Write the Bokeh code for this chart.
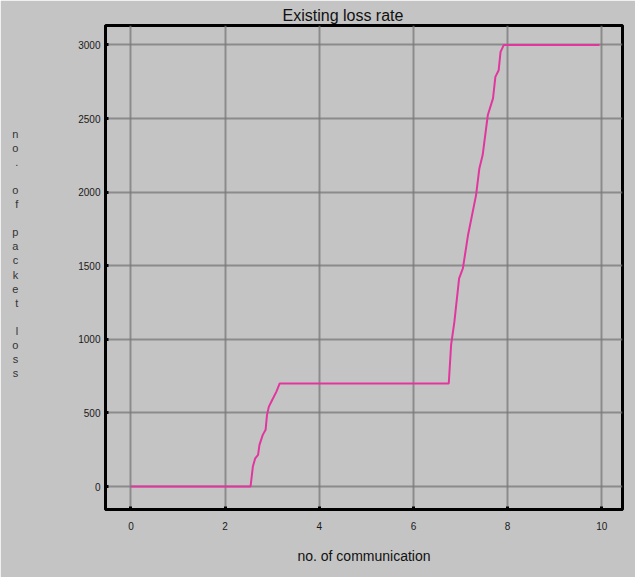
from bokeh.plotting import figure
from bokeh.models import Range1d, Title
from bokeh.embed import file_html
from bokeh.resources import INLINE

# Data
comm = [0, 2.54, 2.59, 2.64, 2.70, 2.73, 2.80, 2.86, 2.89, 2.93, 3.00, 3.09, 3.16,
        6.75, 6.80, 6.87, 6.97, 7.05, 7.16, 7.33, 7.40, 7.47, 7.58, 7.69, 7.74,
        7.81, 7.85, 7.92, 9.95]
loss = [0, 0, 136, 192, 215, 283, 351, 385, 487, 543, 588, 645, 700,
        700, 962, 1120, 1414, 1482, 1709, 1980, 2161, 2252, 2524, 2637, 2783,
        2828, 2953, 3000, 3000]
x_ticks = [0, 2, 4, 6, 8, 10]
y_ticks = [0, 500, 1000, 1500, 2000, 2500, 3000]

title_text = "Existing loss rate"
x_label = "no. of communication"
y_label_words = ["no.", "of", "packet", "loss"]

FONT = "Liberation Sans"
BG = "#c4c4c4"

p = figure(width=635, height=577, output_backend="svg", toolbar_location=None,
           x_range=Range1d(-0.54, 10.44), y_range=Range1d(-156, 3132),
           min_border_left=105, min_border_right=13, min_border_top=25,
           min_border_bottom=68, title=None)
p.background_fill_color = BG
p.border_fill_color = BG
p.outline_line_color = "black"
p.outline_line_width = 3

t = Title(text=title_text, align="left", offset=177, text_font=FONT,
          text_font_size="16px", text_font_style="normal", text_color="#111111",
          standoff=3)
p.add_layout(t, "above")

p.line(comm, loss, line_color="#e2369f", line_width=2)

p.xaxis.ticker = x_ticks
p.yaxis.ticker = y_ticks
p.xaxis.ticker.num_minor_ticks = 10

for ax in (p.xaxis[0], p.yaxis[0]):
    ax.axis_line_color = "black"
    ax.axis_line_width = 3
    ax.major_tick_in = 3
    ax.major_tick_out = 0
    ax.major_tick_line_width = 3
    ax.major_tick_line_color = "black"
    ax.major_label_text_font = FONT
    ax.major_label_text_font_size = "10px"
    ax.major_label_text_color = "#1a1a1a"
    ax.axis_label_text_font = FONT
    ax.axis_label_text_font_style = "normal"
    ax.axis_label_text_color = "#111111"

p.xaxis.minor_tick_in = 2
p.xaxis.minor_tick_out = 0
p.xaxis.minor_tick_line_color = "#333333"
p.xaxis.minor_tick_line_width = 1
p.yaxis.minor_tick_line_color = None
p.xaxis.major_label_standoff = 12
p.yaxis.major_label_standoff = 5

p.xaxis.axis_label = x_label
p.xaxis.axis_label_text_font_size = "14px"
p.xaxis.axis_label_standoff = 15

# vertical stacked letters, one per line; blank line between words
stacked = "\n \n".join("\n".join(w) for w in y_label_words) + "\n \n "
p.yaxis.axis_label = stacked
p.yaxis.axis_label_orientation = "horizontal"
p.yaxis.axis_label_text_font_size = "11px"
p.yaxis.axis_label_text_line_height = 1.17
p.yaxis.axis_label_text_color = "#333333"
p.yaxis.axis_label_standoff = 57

p.xgrid.ticker = x_ticks
p.ygrid.ticker = y_ticks
p.grid.grid_line_color = "#787878"
p.grid.grid_line_width = 2
p.grid.grid_line_alpha = 0.75

open("out.html", "w").write(file_html(p, INLINE))
